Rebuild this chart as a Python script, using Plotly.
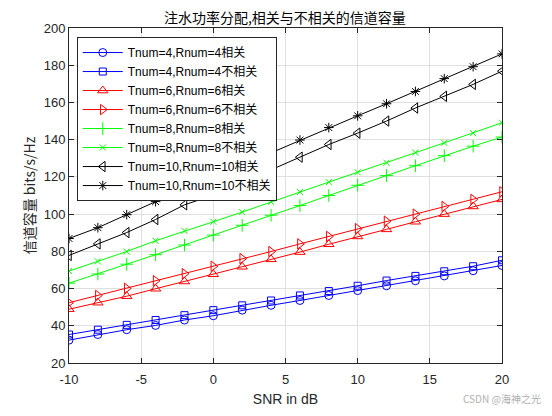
import plotly.graph_objects as go

snr = [-10, -8, -6, -4, -2, 0, 2, 4, 6, 8, 10, 12, 14, 16, 18, 20]
x_ticks = [-10, -5, 0, 5, 10, 15, 20]
x_tick_labels = ["-10", "-5", "0", "5", "10", "15", "20"]
y_ticks = [20, 40, 60, 80, 100, 120, 140, 160, 180, 200]

t4_corr   = [32.3, 35.3, 37.9, 40.2, 43.1, 45.4, 48.4, 51.0, 53.6, 56.3, 58.9, 61.5, 64.2, 66.8, 69.6, 72.4]
t4_uncorr = [35.3, 37.9, 40.5, 43.1, 45.7, 48.4, 51.0, 53.6, 56.3, 58.7, 61.5, 64.3, 66.8, 69.3, 72.0, 75.2]
t6_corr   = [48.9, 52.4, 55.9, 59.9, 63.8, 67.7, 71.7, 75.7, 79.6, 83.8, 88.0, 91.8, 95.9, 100.0, 104.1, 107.9]
t6_uncorr = [52.4, 56.3, 60.1, 64.2, 68.0, 72.0, 76.1, 79.9, 84.0, 88.0, 92.2, 96.2, 100.0, 104.1, 107.9, 112.0]
t8_corr   = [62.9, 67.8, 73.1, 78.2, 83.4, 88.7, 94.0, 99.4, 104.6, 110.0, 115.5, 120.7, 126.0, 131.4, 136.5, 141.4]
t8_uncorr = [69.4, 74.6, 79.9, 85.7, 91.0, 95.9, 101.1, 106.6, 111.9, 117.2, 122.5, 127.6, 133.0, 138.3, 143.5, 149.1]
t10_corr   = [77.8, 84.0, 90.1, 97.1, 105.0, 110.2, 117.0, 123.8, 130.6, 137.4, 143.5, 150.0, 157.0, 163.3, 169.7, 176.8]
t10_uncorr = [86.9, 92.7, 99.7, 106.7, 113.2, 119.5, 126.3, 133.0, 139.8, 146.5, 152.8, 159.3, 165.9, 172.8, 179.2, 186.1]

names = ["Tnum=4,Rnum=4相关", "Tnum=4,Rnum=4不相关",
         "Tnum=6,Rnum=6相关", "Tnum=6,Rnum=6不相关",
         "Tnum=8,Rnum=8相关", "Tnum=8,Rnum=8不相关",
         "Tnum=10,Rnum=10相关", "Tnum=10,Rnum=10不相关"]
series = [t4_corr, t4_uncorr, t6_corr, t6_uncorr, t8_corr, t8_uncorr, t10_corr, t10_uncorr]
colors = ["#0000FF", "#0000FF", "#FF0000", "#FF0000", "#00FF00", "#00FF00", "#000000", "#000000"]
symbols = ["circle-open", "square-open", "triangle-up-open", "triangle-right-open",
           "cross-thin-open", "x-thin-open", "triangle-left-open", "asterisk-open"]
sizes = [8, 7, 9, 9, 9, 6, 9, 8]

fig = go.Figure()
for n, s, c, sym, sz in zip(names, series, colors, symbols, sizes):
    fig.add_trace(go.Scatter(
        x=snr, y=s, name=n, mode="lines+markers",
        line=dict(color=c, width=1),
        marker=dict(symbol=sym, size=sz, color=c, line=dict(color=c, width=1)),
    ))

axis_common = dict(
    showgrid=True, gridcolor="#DFDFDF", gridwidth=1,
    showline=True, linecolor="#262626", linewidth=1, mirror="ticks",
    ticks="inside", ticklen=5, tickcolor="#262626",
    tickfont=dict(family="Liberation Sans, Arial", size=13, color="#262626"),
    zeroline=False,
)

fig.update_layout(
    width=544, height=408,
    margin=dict(l=61, r=50, t=20, b=46),
    paper_bgcolor="white", plot_bgcolor="white",
    title=dict(text="注水功率分配,相关与不相关的信道容量",
               font=dict(family="Noto Sans CJK SC", size=14, color="#000000"),
               x=0.509, xanchor="center", y=0.975, yanchor="middle"),
    xaxis=dict(range=[-10, 20], tickvals=x_ticks, ticktext=x_tick_labels,
               ticklabelstandoff=4,
               title=dict(text="SNR in dB", standoff=8,
                          font=dict(family="Liberation Sans, Arial", size=14, color="#262626")),
               **axis_common),
    yaxis=dict(range=[20, 200], tickvals=y_ticks,
               title=dict(text="信道容量 bits/s/Hz", standoff=4,
                          font=dict(family="Noto Sans CJK SC, Liberation Sans", size=14, color="#262626")),
               **axis_common),
    legend=dict(x=0.018, y=0.973, xanchor="left", yanchor="top",
                bgcolor="white", bordercolor="#262626", borderwidth=1,
                font=dict(family="Liberation Sans, Noto Sans CJK SC", size=12, color="#000000"),
                tracegroupgap=0, itemwidth=40),
    showlegend=True,
)

fig.add_annotation(text="CSDN @海神之光", xref="paper", yref="paper",
                   x=1.095, y=-0.105, xanchor="right", yanchor="middle", showarrow=False,
                   font=dict(family="Noto Sans CJK SC", size=10, color="#B0B0B0"))

fig.write_html("out.html")
